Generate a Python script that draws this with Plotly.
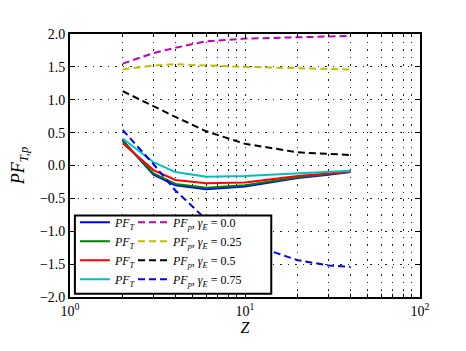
import plotly.graph_objects as go

# Z values (log axis)
z = [2, 3, 4, 6, 10, 20, 30, 40]

# PF_T curves (solid)
pf_t_b = [0.38, -0.14, -0.30, -0.36, -0.32, -0.19, -0.14, -0.10]
pf_t_g = [0.37, -0.12, -0.28, -0.34, -0.30, -0.18, -0.13, -0.09]
pf_t_r = [0.34, -0.07, -0.22, -0.27, -0.26, -0.16, -0.12, -0.09]
pf_t_c = [0.41, 0.05, -0.10, -0.17, -0.16, -0.12, -0.10, -0.08]

# PF_p curves (dashed), one per gamma_E
pf_p_00 = [1.55, 1.71, 1.79, 1.89, 1.93, 1.95, 1.96, 1.97]
pf_p_025 = [1.46, 1.52, 1.54, 1.52, 1.50, 1.48, 1.47, 1.46]
pf_p_05 = [1.13, 0.90, 0.74, 0.52, 0.33, 0.20, 0.17, 0.16]
pf_p_075 = [0.54, 0.02, -0.38, -0.82, -1.17, -1.44, -1.52, -1.54]

gammas = ["0.0", "0.25", "0.5", "0.75"]

FONT = "Liberation Serif"
GRID_DASH = "1.5px,6px"

fig = go.Figure()

solid = [(pf_t_b, "#0000ff"), (pf_t_g, "#008000"), (pf_t_r, "#ff0000"), (pf_t_c, "#00bfbf")]
for ys, col in solid:
    fig.add_trace(go.Scatter(x=z, y=ys, mode="lines", line=dict(color=col, width=2),
                             name="<i>PF</i><sub><i>T</i></sub>", legend="legend"))

dashed = [(pf_p_00, "#bf00bf"), (pf_p_025, "#bfbf00"), (pf_p_05, "#000000"), (pf_p_075, "#0000ff")]
for (ys, col), g in zip(dashed, gammas):
    fig.add_trace(go.Scatter(x=z, y=ys, mode="lines", line=dict(color=col, width=2, dash="7px,4px"),
                             name="<i>PF</i><sub><i>p</i></sub>, <i>γ</i><sub><i>E</i></sub> = " + g,
                             legend="legend2"))

yt = [-2, -1.5, -1, -0.5, 0, 0.5, 1, 1.5, 2]
yt_text = [("%.1f" % v).replace("-", "−") for v in yt]

fig.update_layout(
    width=466, height=351,
    # page body adds ~8px offset, margins compensate
    margin=dict(l=62, r=54, t=26, b=62),
    plot_bgcolor="white", paper_bgcolor="white",
    font=dict(family=FONT, size=14, color="black"),
    showlegend=True,
    xaxis=dict(type="log", range=[0, 2], tickvals=[1, 10, 100],
               ticktext=["10<sup>0</sup>", "10<sup>1</sup>", "10<sup>2</sup>"],
               ticks="inside", ticklen=5, tickcolor="black", mirror="allticks",
               showline=True, linecolor="black", linewidth=1.8,
               showgrid=True, gridcolor="#222", griddash=GRID_DASH, gridwidth=1.2,
               minor=dict(dtick="D1", ticks="inside", ticklen=3, tickcolor="black",
                          showgrid=True, gridcolor="#222", griddash=GRID_DASH, gridwidth=1.2),
               zeroline=False, automargin=False,
               title=dict(text="<i>Z</i>", standoff=4, font=dict(size=16))),
    yaxis=dict(range=[-2, 2], tickvals=yt, ticktext=yt_text,
               ticks="inside", ticklen=5, tickcolor="black", mirror="allticks",
               showline=True, linecolor="black", linewidth=1.8,
               showgrid=True, gridcolor="#222", griddash=GRID_DASH, gridwidth=1.2,
               zeroline=False, automargin=False,
               title=dict(text="<i>PF</i><sub><i>T,p</i></sub>", standoff=25, font=dict(size=18))),
    legend=dict(x=0.014, y=0.012, xanchor="left", yanchor="bottom",
                bgcolor="rgba(0,0,0,0)", font=dict(size=12), tracegroupgap=0),
    legend2=dict(x=0.18, y=0.012, xanchor="left", yanchor="bottom",
                 bgcolor="rgba(0,0,0,0)", font=dict(size=12), tracegroupgap=0),
    shapes=[dict(type="rect", xref="paper", yref="paper", x0=0.014, x1=0.575, y0=0.012, y1=0.31,
                 fillcolor="white", line=dict(color="black", width=2), layer="above")],
)

fig.write_html("out.html")
